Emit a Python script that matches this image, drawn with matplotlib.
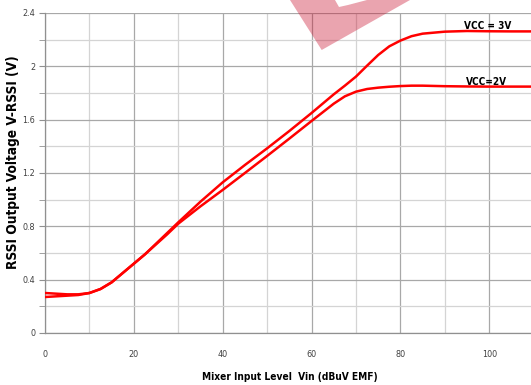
import numpy as np
import matplotlib.pyplot as plt
from matplotlib.patches import Polygon

# readings taken from the reference curve
vin = [0, 2.5, 5, 7.5, 10, 12.5, 15, 17.5, 20, 22.5, 25, 27.5, 30, 35, 40,
       45, 50, 55, 60, 65, 67.5, 70, 72.5, 75, 77.5, 80, 82.5, 85, 90, 95,
       100, 105, 110]
vrssi_3v = [0.30, 0.295, 0.29, 0.29, 0.30, 0.33, 0.38, 0.45, 0.52, 0.59,
            0.67, 0.75, 0.83, 0.985, 1.13, 1.26, 1.385, 1.515, 1.65, 1.79,
            1.855, 1.923, 2.005, 2.085, 2.15, 2.193, 2.226, 2.245, 2.26,
            2.265, 2.263, 2.262, 2.262]
vrssi_2v = [0.27, 0.275, 0.28, 0.285, 0.30, 0.33, 0.38, 0.45, 0.52, 0.59,
            0.665, 0.74, 0.82, 0.95, 1.073, 1.2, 1.328, 1.458, 1.59, 1.72,
            1.775, 1.81, 1.83, 1.84, 1.847, 1.852, 1.855, 1.855, 1.851,
            1.849, 1.848, 1.848, 1.848]
x_ticks = [0, 20, 40, 60, 80, 100]
y_ticks = [0, 0.4, 0.8, 1.2, 1.6, 2.0, 2.4]
y_tick_labels = ['0', '0.4', '0.8', '1.2', '1.6', '2', '2.4']

W, H = 531, 385
font = dict(family='DejaVu Sans', fontstretch='condensed')
fig = plt.figure(figsize=(W / 100, H / 100), dpi=100)
ax = fig.add_axes([45 / W, 1 - 333 / H, 486 / W, 320 / H])

ax.set_xlim(0, 109.4)
ax.set_ylim(0, 2.4)
ax.set_xticks(x_ticks)
ax.set_xticks(np.arange(10, 110, 20), minor=True)
ax.set_yticks(y_ticks)
ax.set_yticks(np.arange(0.2, 2.4, 0.4), minor=True)
ax.set_yticklabels(y_tick_labels)
ax.grid(which='major', color='#a8a8a8', lw=0.9)
ax.grid(which='minor', color='#d4d4d4', lw=0.9)
ax.set_axisbelow(True)
for s in ['top', 'right']:
    ax.spines[s].set_visible(False)
for s in ['left', 'bottom']:
    ax.spines[s].set_color('#909090')
    ax.spines[s].set_linewidth(0.9)
ax.tick_params(axis='y', which='both', length=4, color='#909090',
               labelsize=6.5, labelcolor='#404040', pad=3)
ax.tick_params(axis='x', which='both', length=0, labelsize=6.5,
               labelcolor='#404040', pad=12)
for lab in ax.get_xticklabels() + ax.get_yticklabels():
    lab.set_fontstretch('condensed')

ax.plot(vin, vrssi_3v, color='red', lw=1.8, zorder=3)
ax.plot(vin, vrssi_2v, color='red', lw=1.8, zorder=3)
ax.text(99.6, 2.305, 'VCC = 3V', fontsize=7.2, fontweight='bold',
        ha='center', va='center', **font)
ax.text(99.3, 1.883, 'VCC=2V', fontsize=7.2, fontweight='bold',
        ha='center', va='center', **font)

fig.text(290 / W, 1 - 377 / H, 'Mixer Input Level  Vin (dBuV EMF)',
         fontsize=7.3, fontweight='bold', ha='center', va='center', **font)
fig.text(13 / W, 1 - 162 / H, 'RSSI Output Voltage V-RSSI (V)',
         fontsize=9.8, fontweight='bold', rotation=90,
         ha='center', va='center', **font)


def px(points):
    return [(x / W, 1 - y / H) for x, y in points]


# translucent logo fragment at the top
fig.patches.append(Polygon(px([(290, 0), (321.7, 50), (410, 0)]),
                           closed=True, transform=fig.transFigure,
                           facecolor='#c8102e', alpha=0.38, lw=0, zorder=5))
fig.patches.append(Polygon(px([(335, 0), (339, 7), (348, 5), (367, 0)]),
                           closed=True, transform=fig.transFigure,
                           facecolor='white', lw=0, zorder=6))

fig.savefig('out.png', dpi=100)
